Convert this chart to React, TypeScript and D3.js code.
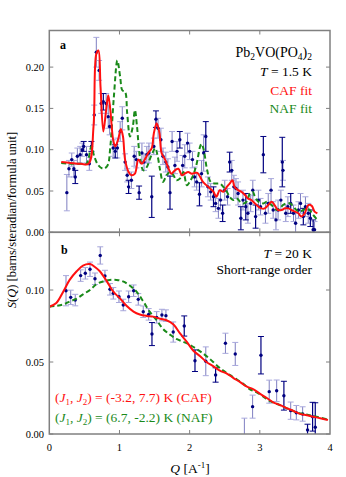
import React from "react";
import * as d3 from "d3";

// panel a, T = 1.5 K : [Q, S(Q), error]
const lowTBankA: number[][] = [
  [0.25, 0.048, 0.022], [0.28, 0.077, 0.01], [0.32, 0.088, 0.008], [0.35, 0.077, 0.01],
  [0.40, 0.092, 0.01], [0.44, 0.094, 0.01], [0.47, 0.1, 0.008], [0.53, 0.094, 0.01],
  [0.57, 0.083, 0.008], [0.64, 0.142, 0.012], [0.67, 0.218, 0.018], [0.71, 0.196, 0.012],
  [0.74, 0.156, 0.012], [0.81, 0.156, 0.012], [0.84, 0.14, 0.014], [0.86, 0.128, 0.01],
  [0.91, 0.102, 0.01], [0.97, 0.102, 0.012], [1.01, 0.122, 0.012], [1.04, 0.138, 0.014],
  [1.08, 0.085, 0.01], [1.11, 0.069, 0.008], [1.17, 0.063, 0.01], [1.21, 0.092, 0.012],
  [1.24, 0.088, 0.01], [1.32, 0.096, 0.012], [1.35, 0.085, 0.01], [1.39, 0.094, 0.01],
  [1.42, 0.096, 0.012], [1.49, 0.104, 0.01], [1.55, 0.126, 0.012], [1.59, 0.112, 0.014],
  [1.62, 0.092, 0.01], [1.66, 0.085, 0.012], [1.69, 0.079, 0.01], [1.75, 0.11, 0.012],
  [1.79, 0.081, 0.01], [1.82, 0.098, 0.012], [1.90, 0.081, 0.012], [1.93, 0.092, 0.014],
  [1.97, 0.108, 0.012], [2.00, 0.098, 0.01], [2.04, 0.088, 0.01], [2.07, 0.067, 0.012],
  [2.10, 0.061, 0.01], [2.17, 0.071, 0.016], [2.20, 0.096, 0.022], [2.26, 0.055, 0.012],
  [2.30, 0.049, 0.01], [2.37, 0.035, 0.01], [2.41, 0.029, 0.012], [2.44, 0.039, 0.012],
  [2.50, 0.051, 0.012], [2.54, 0.043, 0.01], [2.60, 0.075, 0.012], [2.63, 0.055, 0.014],
  [2.66, 0.053, 0.012], [2.69, 0.047, 0.014], [2.76, 0.039, 0.012], [2.83, 0.023, 0.012],
  [2.87, 0.035, 0.01], [2.90, 0.051, 0.012], [2.98, 0.039, 0.012], [3.01, 0.031, 0.01],
  [3.08, 0.023, 0.012], [3.12, 0.035, 0.012], [3.16, 0.051, 0.014], [3.19, 0.027, 0.01],
  [3.23, 0.015, 0.012], [3.26, 0.027, 0.012], [3.30, 0.039, 0.012], [3.33, 0.075, 0.012],
  [3.37, 0.023, 0.01], [3.40, 0.031, 0.012], [3.48, 0.023, 0.01], [3.51, 0.011, 0.012],
  [3.55, 0.027, 0.01], [3.58, 0.035, 0.012], [3.65, 0.031, 0.012], [3.69, 0.023, 0.012],
  [3.78, 0.003, 0.01],
];
const lowTBankB: number[][] = [
  [0.37, 0.067, 0.008], [0.49, 0.104, 0.006], [0.60, 0.104, 0.006], [0.77, 0.158, 0.01],
  [0.94, 0.098, 0.008], [1.13, 0.055, 0.008], [1.28, 0.048, 0.008], [1.46, 0.043, 0.025],
  [1.52, 0.137, 0.01], [1.72, 0.048, 0.02], [1.86, 0.112, 0.01], [2.14, 0.046, 0.014],
  [2.23, 0.116, 0.018], [2.34, 0.043, 0.012], [2.47, 0.023, 0.01], [2.57, 0.085, 0.012],
  [2.73, 0.017, 0.014], [2.80, 0.031, 0.016], [2.94, 0.019, 0.014], [3.05, 0.094, 0.022],
  [3.32, 0.085, 0.03], [3.44, 0.035, 0.012], [3.62, 0.019, 0.01], [3.72, 0.017, 0.01],
  [3.76, 0.003, 0.012],
];
const cafFitLow: number[][] = [
  [0.17, 0.085], [0.3, 0.084], [0.45, 0.083], [0.56, 0.083], [0.63, 0.128], [0.67, 0.216],
  [0.70, 0.22], [0.73, 0.176], [0.77, 0.122], [0.81, 0.148], [0.84, 0.166], [0.87, 0.148],
  [0.91, 0.112], [0.94, 0.104], [0.98, 0.112], [1.02, 0.125], [1.05, 0.116], [1.08, 0.088],
  [1.13, 0.073], [1.17, 0.069], [1.22, 0.071], [1.27, 0.088], [1.32, 0.083], [1.36, 0.088],
  [1.41, 0.096], [1.46, 0.102], [1.49, 0.12], [1.53, 0.132], [1.57, 0.12], [1.60, 0.096],
  [1.65, 0.088], [1.70, 0.077], [1.74, 0.071], [1.79, 0.075], [1.84, 0.077], [1.89, 0.069],
  [1.93, 0.071], [1.98, 0.073], [2.03, 0.071], [2.08, 0.072], [2.11, 0.072], [2.15, 0.067],
  [2.19, 0.061], [2.24, 0.057], [2.29, 0.053], [2.34, 0.049], [2.38, 0.043], [2.43, 0.051],
  [2.48, 0.049], [2.53, 0.055], [2.57, 0.059], [2.61, 0.063], [2.64, 0.055], [2.69, 0.051],
  [2.74, 0.049], [2.79, 0.045], [2.83, 0.041], [2.88, 0.039], [2.93, 0.035], [2.98, 0.031],
  [3.02, 0.029], [3.07, 0.029], [3.12, 0.033], [3.17, 0.037], [3.21, 0.033], [3.26, 0.027],
  [3.31, 0.027], [3.36, 0.029], [3.41, 0.029], [3.45, 0.027], [3.50, 0.025], [3.55, 0.023],
  [3.59, 0.019], [3.64, 0.023], [3.69, 0.033], [3.74, 0.032], [3.78, 0.025], [3.82, 0.023],
];
const nafFitLow: number[][] = [
  [0.17, 0.084], [0.3, 0.083], [0.45, 0.083], [0.53, 0.083], [0.60, 0.104], [0.64, 0.092],
  [0.70, 0.081], [0.77, 0.077], [0.83, 0.081], [0.87, 0.104], [0.92, 0.164], [0.97, 0.208],
  [1.01, 0.188], [1.04, 0.172], [1.08, 0.17], [1.11, 0.144], [1.15, 0.116], [1.19, 0.128],
  [1.22, 0.148], [1.25, 0.128], [1.29, 0.092], [1.34, 0.075], [1.39, 0.079], [1.43, 0.088],
  [1.47, 0.096], [1.51, 0.102], [1.54, 0.094], [1.58, 0.075], [1.62, 0.061], [1.67, 0.069],
  [1.72, 0.073], [1.77, 0.069], [1.81, 0.063], [1.86, 0.065], [1.91, 0.073], [1.96, 0.057],
  [2.00, 0.061], [2.05, 0.069], [2.10, 0.083], [2.15, 0.104], [2.17, 0.107], [2.20, 0.1],
  [2.25, 0.075], [2.30, 0.061], [2.36, 0.059], [2.43, 0.059], [2.48, 0.055], [2.53, 0.049],
  [2.57, 0.043], [2.62, 0.039], [2.67, 0.041], [2.72, 0.037], [2.77, 0.035], [2.81, 0.037],
  [2.86, 0.047], [2.90, 0.049], [2.93, 0.043], [2.98, 0.037], [3.05, 0.035], [3.10, 0.037],
  [3.14, 0.035], [3.19, 0.031], [3.24, 0.027], [3.29, 0.029], [3.33, 0.033], [3.38, 0.035],
  [3.43, 0.035], [3.48, 0.031], [3.52, 0.027], [3.57, 0.025], [3.62, 0.027], [3.67, 0.029],
  [3.71, 0.027], [3.76, 0.021], [3.82, 0.015],
];

// panel b, T = 20 K
const highTBankA: number[][] = [
  [0.238, 0.0995, 0.0105], [0.305, 0.0949, 0.005], [0.37, 0.093, 0.004], [0.447, 0.11, 0.004],
  [0.513, 0.1116, 0.004], [0.58, 0.1144, 0.005], [0.651, 0.1078, 0.004], [0.726, 0.124, 0.006],
  [0.793, 0.1097, 0.004], [0.865, 0.1005, 0.004], [0.912, 0.0977, 0.004], [0.993, 0.0953, 0.004],
  [1.054, 0.0896, 0.004], [1.131, 0.0953, 0.004], [1.202, 0.0995, 0.004], [1.268, 0.0935, 0.004],
  [1.339, 0.0849, 0.004], [1.416, 0.0831, 0.004], [1.53, 0.081, 0.004], [1.605, 0.0826, 0.004],
  [1.662, 0.0822, 0.004], [1.766, 0.0708, 0.007], [2.23, 0.0505, 0.01], [2.51, 0.063, 0.007],
  [2.65, 0.0556, 0.008], [2.897, 0.019, 0.008], [2.78, -0.004, 0.015], [3.134, 0.0294, 0.008],
  [3.24, 0.03, 0.0075], [3.44, 0.0162, 0.006], [3.52, 0.0148, 0.005], [3.61, 0.0139, 0.005],
];
const highTBankB: number[][] = [
  [1.463, 0.0694, 0.008], [1.923, 0.075, 0.007], [2.076, 0.0509, 0.0075], [2.37, 0.041, 0.005],
  [3.016, 0.0547, 0.013], [3.343, 0.0266, 0.01], [3.68, 0.0028, 0.004], [3.752, 0.012, 0.01],
  [3.79, 0.0047, 0.017],
];
const cafFitHigh: number[][] = [
  [0, 0.0884], [0.1, 0.091], [0.2, 0.099], [0.29, 0.107], [0.39, 0.113], [0.48, 0.117],
  [0.58, 0.118], [0.65, 0.116], [0.72, 0.113], [0.82, 0.106], [0.91, 0.099], [1.01, 0.094],
  [1.1, 0.089], [1.2, 0.085], [1.29, 0.083], [1.39, 0.082], [1.48, 0.0815], [1.58, 0.08],
  [1.67, 0.079], [1.77, 0.076], [1.86, 0.07], [1.96, 0.064], [2.05, 0.058], [2.15, 0.054],
  [2.24, 0.05], [2.34, 0.047], [2.43, 0.044], [2.53, 0.042], [2.62, 0.039], [2.72, 0.036],
  [2.81, 0.033], [2.91, 0.031], [3.0, 0.028], [3.1, 0.025], [3.19, 0.022], [3.29, 0.02],
  [3.38, 0.018], [3.48, 0.016], [3.57, 0.014], [3.67, 0.013], [3.76, 0.012], [3.86, 0.011],
  [3.97, 0.0097],
];
const nafFitHigh: number[][] = [
  [0, 0.0884], [0.1, 0.089], [0.2, 0.09], [0.29, 0.092], [0.39, 0.094], [0.48, 0.097],
  [0.58, 0.1], [0.67, 0.104], [0.77, 0.106], [0.86, 0.107], [0.96, 0.107], [1.05, 0.106],
  [1.15, 0.103], [1.24, 0.099], [1.34, 0.092], [1.43, 0.085], [1.53, 0.079], [1.62, 0.073],
  [1.72, 0.069], [1.81, 0.066], [1.91, 0.064], [2.0, 0.062], [2.1, 0.059], [2.19, 0.056],
  [2.29, 0.052], [2.38, 0.048], [2.48, 0.044], [2.57, 0.041], [2.67, 0.038], [2.76, 0.035],
  [2.86, 0.031], [2.95, 0.029], [3.05, 0.026], [3.14, 0.023], [3.24, 0.021], [3.33, 0.019],
  [3.43, 0.017], [3.52, 0.015], [3.62, 0.014], [3.71, 0.013], [3.81, 0.012], [3.97, 0.01],
];

const qTicks = [0, 1, 2, 3, 4];
const sTicksA = [0, 0.05, 0.1, 0.15, 0.2];
const sTicksB = [0, 0.05, 0.1];

const L = 49.3, R = 330;
const topA = 30.5, midY = 232.3, botB = 434;
const serif = "Liberation Serif, Times New Roman, serif";
const navy = "#000080";
const frame = "#808080";
const red = "#ff1010";
const green = "#1a8a1a";

const x = d3.scaleLinear().domain([0, 4]).range([L, R]);
const yA = d3.scaleLinear().domain([0, (midY - topA) / 826]).range([midY, topA]);
const yB = d3.scaleLinear().domain([0, (botB - midY) / 1440]).range([botB, midY]);

function ErrPoints({ pts, y, dark }: { pts: number[][]; y: d3.ScaleLinear<number, number>; dark: boolean }) {
  const col = dark ? navy : "#6a6ab8";
  const capCol = dark ? navy : "#a8a8dc";
  return (
    <g>
      {pts.map(([q, s, e], i) => {
        const cx = x(q);
        return (
          <g key={i}>
            <line x1={cx} x2={cx} y1={y(s - e)} y2={y(s + e)} stroke={col} strokeWidth={dark ? 1.2 : 1} opacity={dark ? 1 : 0.85} />
            <line x1={cx - 3} x2={cx + 3} y1={y(s - e)} y2={y(s - e)} stroke={capCol} strokeWidth={1} />
            <line x1={cx - 3} x2={cx + 3} y1={y(s + e)} y2={y(s + e)} stroke={capCol} strokeWidth={1} />
          </g>
        );
      })}
      {pts.map(([q, s], i) => (
        <circle key={"c" + i} cx={x(q)} cy={y(s)} r={1.7} fill={navy} />
      ))}
    </g>
  );
}

function Panel({ y, yTicks, top, bottom, bankA, bankB, caf, naf }: any) {
  const line = d3.line<number[]>().x((d) => x(d[0])).y((d) => y(d[1])).curve(d3.curveCatmullRom.alpha(0.5));
  const clipId = "clip" + Math.round(top);
  return (
    <g>
      <defs>
        <clipPath id={clipId}>
          <rect x={L} y={top} width={R - L} height={bottom - top} />
        </clipPath>
      </defs>
      <g clipPath={`url(#${clipId})`}>
        <ErrPoints pts={bankA} y={y} dark={false} />
        <ErrPoints pts={bankB} y={y} dark={true} />
        <path d={line(naf) || ""} fill="none" stroke={green} strokeWidth={2} strokeDasharray="5,3" />
        <path d={line(caf) || ""} fill="none" stroke={red} strokeWidth={2} />
      </g>
      {yTicks.map((t: number) => (
        <g key={t}>
          <line x1={L} x2={L + 4} y1={y(t)} y2={y(t)} stroke={frame} />
          <line x1={R - 4} x2={R} y1={y(t)} y2={y(t)} stroke={frame} />
          <text x={44} y={y(t) + 3.5} textAnchor="end" fontSize={10.5} style={{ fontFamily: serif }}>
            {t.toFixed(2)}
          </text>
        </g>
      ))}
      {qTicks.slice(1, 4).map((t) => (
        <g key={t}>
          <line x1={x(t)} x2={x(t)} y1={top} y2={top + 4} stroke={frame} />
          <line x1={x(t)} x2={x(t)} y1={bottom - 4} y2={bottom} stroke={frame} />
        </g>
      ))}
      <rect x={L} y={top} width={R - L} height={bottom - top} fill="none" stroke={frame} strokeWidth={1.5} />
    </g>
  );
}

export default function App() {
  return (
    <svg width={346} height={477} style={{ position: "absolute", left: 0, top: 0, fontFamily: serif }}>
      <rect width={346} height={477} fill="#fff" />
      <Panel y={yA} yTicks={sTicksA} top={topA} bottom={midY} bankA={lowTBankA} bankB={lowTBankB} caf={cafFitLow} naf={nafFitLow} />
      <Panel y={yB} yTicks={sTicksB} top={midY} bottom={botB} bankA={highTBankA} bankB={highTBankB} caf={cafFitHigh} naf={nafFitHigh} />

      <g style={{ fontFamily: serif }} fontSize={13.5}>
        <text x={60} y={49} fontWeight="bold" fontSize={12}>a</text>
        <text x={312} y={57} textAnchor="end" fontSize={14}>
          Pb<tspan fontSize={9.5} dy={3}>2</tspan>
          <tspan dy={-3}>VO(PO</tspan>
          <tspan fontSize={9.5} dy={3}>4</tspan>
          <tspan dy={-3}>)</tspan>
          <tspan fontSize={9.5} dy={3}>2</tspan>
        </text>
        <text x={312} y={76} textAnchor="end">
          <tspan fontStyle="italic">T</tspan> = 1.5 K
        </text>
        <text x={312} y={95} textAnchor="end" fill={red}>CAF fit</text>
        <text x={312} y={113} textAnchor="end" fill={green}>NAF fit</text>

        <text x={61} y={254} fontWeight="bold" fontSize={12}>b</text>
        <text x={312} y={258} textAnchor="end">
          <tspan fontStyle="italic">T</tspan> = 20 K
        </text>
        <text x={312} y={274} textAnchor="end">Short-range order</text>
        <text x={55} y={402} fill={red}>
          (<tspan fontStyle="italic">J</tspan>
          <tspan fontSize={9} dy={3}>1</tspan>
          <tspan dy={-3}>, </tspan>
          <tspan fontStyle="italic">J</tspan>
          <tspan fontSize={9} dy={3}>2</tspan>
          <tspan dy={-3}>) = (-3.2, 7.7) K (CAF)</tspan>
        </text>
        <text x={55} y={422} fill={green}>
          (<tspan fontStyle="italic">J</tspan>
          <tspan fontSize={9} dy={3}>1</tspan>
          <tspan dy={-3}>, </tspan>
          <tspan fontStyle="italic">J</tspan>
          <tspan fontSize={9} dy={3}>2</tspan>
          <tspan dy={-3}>) = (6.7, -2.2) K (NAF)</tspan>
        </text>

        {qTicks.map((t) => (
          <text key={t} x={x(t)} y={451} textAnchor="middle" fontSize={10.5}>{t}</text>
        ))}
        <text x={190} y={473} textAnchor="middle">
          <tspan fontStyle="italic">Q</tspan> [A
          <tspan fontSize={9} dy={-5}>-1</tspan>
          <tspan dy={5}>]</tspan>
        </text>
        <text transform="translate(16,220) rotate(-90)" textAnchor="middle" fontSize={12.5}>
          <tspan fontStyle="italic">S</tspan>(<tspan fontStyle="italic">Q</tspan>) [barns/steradian/formula unit]
        </text>
      </g>
    </svg>
  );
}
